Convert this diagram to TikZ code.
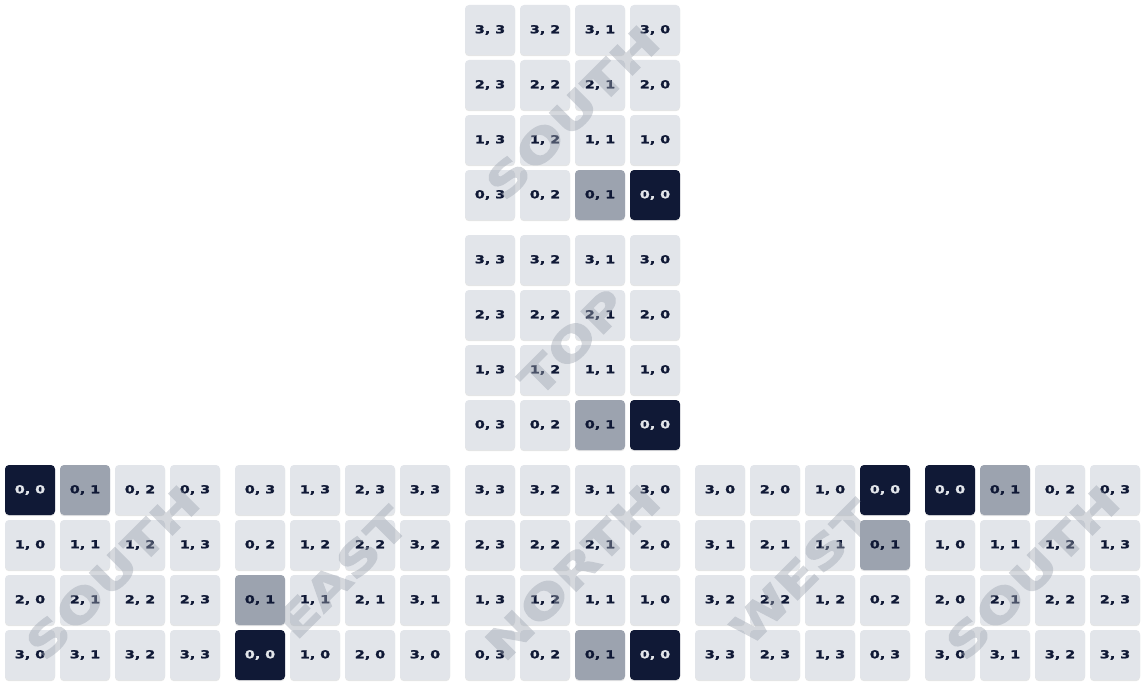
\documentclass[tikz,border=0pt]{standalone}
\usepackage{fontspec}
\usetikzlibrary{shadows}
\newfontfamily\lblfont[FakeStretch=1.3,FakeBold=1.6]{DejaVu Sans Bold}
\newfontfamily\wmfont[FakeStretch=1.3,FakeBold=2.5]{DejaVu Sans Bold}
\definecolor{celllight}{HTML}{E2E5EA}
\definecolor{cellgray}{HTML}{9CA3AF}
\definecolor{celldark}{HTML}{101936}
\definecolor{wmgray}{HTML}{9CA3AF}
\tikzset{
  cellbase/.style={minimum size=50pt, inner sep=0pt, rounded corners=4pt,
    font=\lblfont\fontsize{11}{11}\selectfont,
    drop shadow={shadow xshift=0pt, shadow yshift=-1.2pt, opacity=0.10, fill=black}},
  lightcell/.style={cellbase, fill=celllight, text=celldark},
  graycell/.style={cellbase, fill=cellgray, text=celldark},
  darkcell/.style={cellbase, fill=celldark, text=celllight},
  wmark/.style={rotate=45, text=wmgray, inner sep=0pt,
    font=\wmfont\fontsize{44}{44}\selectfont}
}
\newcommand{\drawgrid}[5]{%
  \foreach \ri in {0,...,3}{%
    \foreach \ci in {0,...,3}{%
      \pgfmathtruncatemacro\va{#4}%
      \pgfmathtruncatemacro\vb{#5}%
      \pgfmathtruncatemacro\vk{\va*4+\vb}%
      \ifnum\vk=0 \def\cst{darkcell}\else\ifnum\vk=1 \def\cst{graycell}\else\def\cst{lightcell}\fi\fi
      \node[\cst] (#1-\ri-\ci) at ({#2+25+55*\ci},{#3+25+55*\ri}) {\va, \vb};
    }%
  }%
}
\begin{document}
\begin{tikzpicture}[x=1pt,y=-1pt]
\useasboundingbox (0,0) rectangle (1145,685);
\fill[white] (0,0) rectangle (1145,685);
% top column
\drawgrid{ts}{465}{5}{3-\ri}{3-\ci}
\drawgrid{tp}{465}{235}{3-\ri}{3-\ci}
% bottom row
\drawgrid{bs}{5}{465}{\ri}{\ci}
\drawgrid{be}{235}{465}{\ci}{3-\ri}
\drawgrid{bn}{465}{465}{3-\ri}{3-\ci}
\drawgrid{bw}{695}{465}{3-\ci}{\ri}
\drawgrid{bs2}{925}{465}{\ri}{\ci}
% watermarks
\begin{scope}[transparency group, opacity=0.42]
\node[wmark] (wm1) at (572.5,112.5) {SOUTH};
\node[wmark] (wm2) at (572.5,342.5) {TOP};
\node[wmark] (wm3) at (112.5,572.5) {SOUTH};
\node[wmark] (wm4) at (342.5,572.5) {EAST};
\node[wmark] (wm5) at (572.5,572.5) {NORTH};
\node[wmark] (wm6) at (802.5,572.5) {WEST};
\node[wmark] (wm7) at (1032.5,572.5) {SOUTH};
\end{scope}
\end{tikzpicture}
\end{document}
